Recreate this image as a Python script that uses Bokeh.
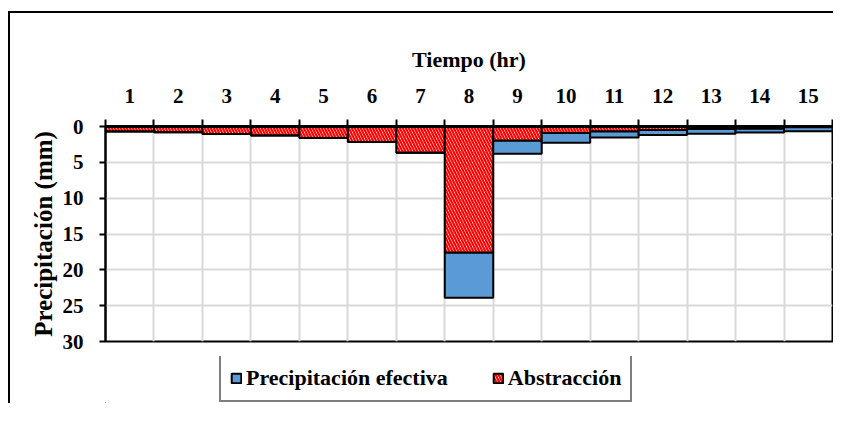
from bokeh.plotting import figure
from bokeh.layouts import column
from bokeh.models import Range1d, FixedTicker, Legend, LegendItem, ColumnDataSource
from bokeh.embed import file_html
from bokeh.resources import INLINE

hours = list(range(1, 16))
abstraccion = [0.7, 0.8, 1.05, 1.25, 1.6, 2.15, 3.65, 17.6, 2.0, 0.9, 0.7, 0.5, 0.35, 0.3, 0.1]
efectiva = [0, 0, 0, 0, 0, 0, 0, 6.3, 1.8, 1.35, 0.85, 0.7, 0.65, 0.55, 0.55]
y_ticks = [0, 5, 10, 15, 20, 25, 30]
x_label = "Tiempo (hr)"
y_label = "Precipitación (mm)"
names = ["Precipitación efectiva", "Abstracción"]

src = ColumnDataSource(dict(
    x=hours,
    abs_top=abstraccion,
    zero=[0] * len(hours),
    ef_top=[a + e for a, e in zip(abstraccion, efectiva)],
))

FONT = "Liberation Serif"
RED_STYLE = dict(fill_color="white", hatch_pattern="\\", hatch_color="#FF0000",
                 hatch_weight=2.2, hatch_scale=6, line_color="black", line_width=2)
BLUE_STYLE = dict(fill_color="#5B9BD5", line_color="black", line_width=2)

p1 = figure(width=825, height=345, output_backend="svg", toolbar_location=None,
            x_range=Range1d(0.5, 15.5), y_range=Range1d(30, 0),
            x_axis_location="above",
            min_border_left=95, min_border_right=3, min_border_top=113, min_border_bottom=17)
p1.styles = {"margin-left": "8px", "margin-top": "11px",
             "border-top": "2px solid black", "border-left": "2px solid black"}

r_abs = p1.vbar(x="x", bottom="zero", top="abs_top", width=1, source=src, **RED_STYLE)
r_ef = p1.vbar(x="x", bottom="abs_top", top="ef_top", width=1, source=src, **BLUE_STYLE)

centers = [float(h) for h in hours]
bounds = [h + 0.5 for h in range(0, 16)]

xa = p1.xaxis[0]
xa.ticker = FixedTicker(ticks=centers, minor_ticks=bounds)
xa.major_tick_in = 0
xa.major_tick_out = 0
xa.minor_tick_in = 0
xa.minor_tick_out = 7
xa.minor_tick_line_color = "black"
xa.minor_tick_line_width = 2
xa.axis_line_width = 3
xa.axis_line_color = "black"
xa.major_label_text_font = FONT
xa.major_label_text_font_style = "bold"
xa.major_label_text_font_size = "21px"
xa.major_label_text_color = "black"
xa.major_label_standoff = 17
xa.axis_label = x_label
xa.axis_label_text_font = FONT
xa.axis_label_text_font_style = "bold"
xa.axis_label_text_font_size = "22px"
xa.axis_label_text_color = "black"
xa.axis_label_standoff = 14

ya = p1.yaxis[0]
ya.ticker = FixedTicker(ticks=y_ticks)
ya.major_tick_in = 0
ya.major_tick_out = 6
ya.major_tick_line_width = 2
ya.major_tick_line_color = "black"
ya.minor_tick_out = 0
ya.minor_tick_in = 0
ya.axis_line_width = 2
ya.axis_line_color = "black"
ya.major_label_text_font = FONT
ya.major_label_text_font_style = "bold"
ya.major_label_text_font_size = "21px"
ya.major_label_text_color = "black"
ya.major_label_standoff = 16
ya.axis_label = y_label
ya.axis_label_text_font = FONT
ya.axis_label_text_font_style = "bold"
ya.axis_label_text_font_size = "25px"
ya.axis_label_text_color = "black"
ya.axis_label_standoff = 3

p1.xgrid.ticker = FixedTicker(ticks=bounds[1:-1])
p1.ygrid.ticker = FixedTicker(ticks=y_ticks[1:-1])
p1.xgrid.grid_line_color = "#D9D9D9"
p1.ygrid.grid_line_color = "#D9D9D9"
p1.xgrid.grid_line_width = 2
p1.ygrid.grid_line_width = 2

p1.outline_line_color = "black"
p1.outline_line_width = 2
p1.background_fill_color = "white"
p1.border_fill_color = "white"

# legend strip below the chart (its frame is aligned with the chart frame by the column)
p2 = figure(width=825, height=47, output_backend="svg", toolbar_location=None,
            x_range=Range1d(0, 1), y_range=Range1d(0, 1),
            x_axis_location=None, y_axis_location=None, min_border=0)
p2.styles = {"margin-left": "8px", "border-left": "2px solid black"}
p2.grid.visible = False
p2.outline_line_color = None
p2.border_fill_color = "white"
dummy = ColumnDataSource(dict(x=[-10], b=[-10], t=[-9]))
l_ef = p2.vbar(x="x", bottom="b", top="t", width=1, source=dummy, **BLUE_STYLE)
l_abs = p2.vbar(x="x", bottom="b", top="t", width=1, source=dummy, **RED_STYLE)

legend = Legend(items=[LegendItem(label=names[0], renderers=[l_ef]),
                       LegendItem(label=names[1], renderers=[l_abs])],
                orientation="horizontal", location=(114, 1))
legend.label_text_font = FONT
legend.label_text_font_style = "bold"
legend.label_text_font_size = "22px"
legend.label_text_color = "black"
legend.glyph_width = 12
legend.glyph_height = 12
legend.label_standoff = 4
legend.spacing = 44
legend.padding = 9
legend.margin = 0
legend.border_line_color = "black"
legend.border_line_width = 2
legend.background_fill_alpha = 1
p2.add_layout(legend)

p = column(p1, p2, spacing=0)
open("out.html", "w").write(file_html(p, INLINE))
